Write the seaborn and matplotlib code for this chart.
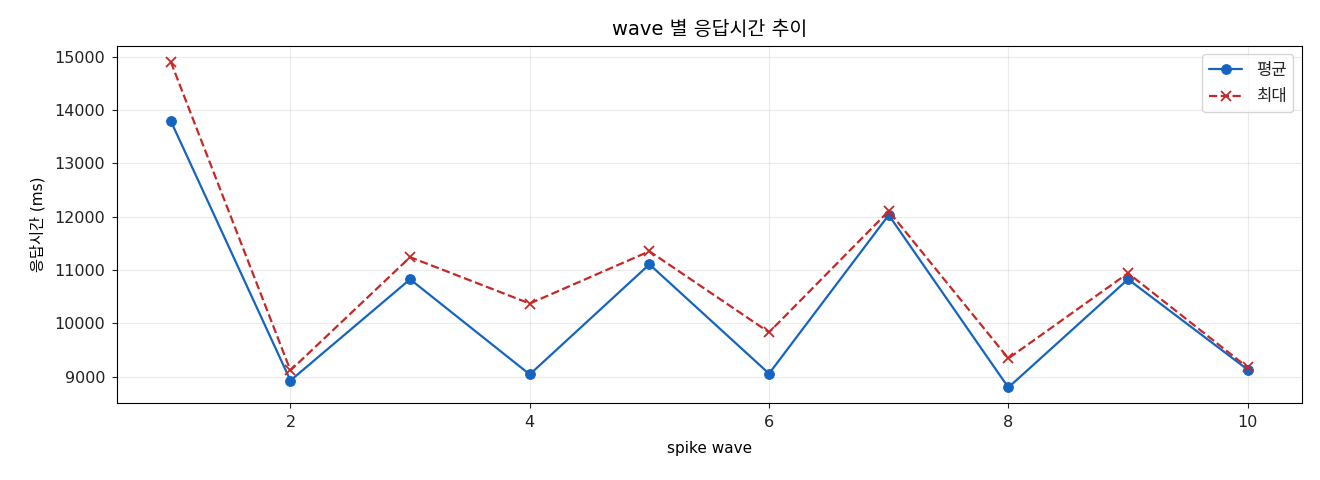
import numpy as np
import pandas as pd
import matplotlib
matplotlib.use("Agg")
import matplotlib.pyplot as plt
import seaborn as sns

waves = [1, 2, 3, 4, 5, 6, 7, 8, 9, 10]
avg_ms = [13795, 8925, 10825, 9040, 11105, 9055, 12030, 8795, 10825, 9130]
max_ms = [14905, 9115, 11240, 10370, 11350, 9830, 12105, 9340, 10940, 9170]

sns.set_style("ticks")
plt.rcParams['font.family'] = ['DejaVu Sans', 'Noto Sans CJK KR']

df = pd.DataFrame({"wave": waves, "avg": avg_ms, "max": max_ms})

fig, ax = plt.subplots(figsize=(13.2, 4.8), dpi=100)
sns.lineplot(data=df, x="wave", y="avg", marker="o", markersize=7, color="#1565C0",
             markeredgecolor="#1565C0", linewidth=1.6, label="평균", ax=ax)
sns.lineplot(data=df, x="wave", y="max", marker="x", markersize=7, color="#C62828",
             linestyle="--", markeredgecolor="#C62828", markeredgewidth=1.3,
             linewidth=1.6, label="최대", ax=ax)

ax.set_title("wave 별 응답시간 추이", fontsize=14, color="black", pad=8)
ax.set_xlabel("spike wave", fontsize=11, color="black", labelpad=8)
ax.set_ylabel("응답시간 (ms)", fontsize=11, color="black", labelpad=6)
ax.set_xticks([2, 4, 6, 8, 10])
ax.tick_params(labelsize=11.5, labelcolor="#222222", pad=5)
ax.set_ylim(8500, 15200)
ax.grid(True, alpha=0.4)
for s in ax.spines.values():
    s.set_color("black")
ax.legend(loc="upper right", fontsize=12)

fig.subplots_adjust(left=0.0886, right=0.986, top=0.904, bottom=0.16)
fig.savefig("out.png", dpi=100)
